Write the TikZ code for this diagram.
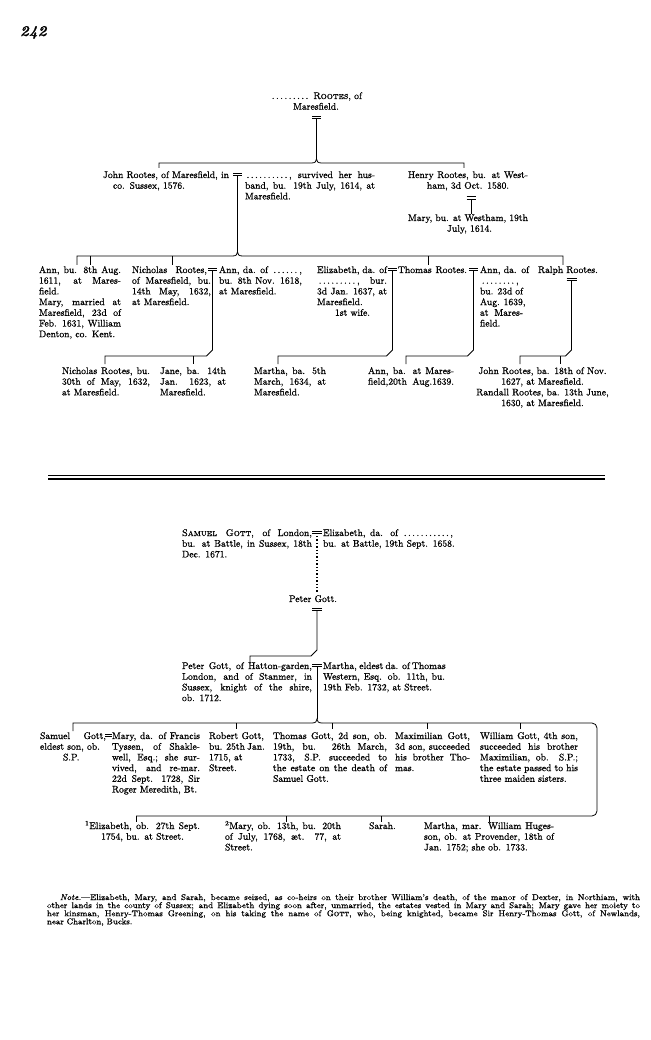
\documentclass[tikz,border=0pt]{standalone}
\usepackage{fontspec}
\setmainfont{Latin Modern Roman}[FakeBold=0.9,SmallCapsFont={Latin Modern Roman Caps},SmallCapsFeatures={FakeBold=0.9}]
\usetikzlibrary{calc}
\newcommand{\J}[1]{\makebox[\linewidth][s]{\spaceskip=0pt\xspaceskip=0pt\relax #1}}
\newcommand{\Jw}[2]{\makebox[#1pt][s]{\spaceskip=0pt\xspaceskip=0pt\relax #2}}
\newcommand{\Cl}[1]{\makebox[\linewidth][c]{#1}}
\newcommand{\dts}[1]{\makebox[#1pt]{\dotfill}}
\newcommand{\bodyfont}{\fontsize{9.6}{10.7}\selectfont}
\newcommand{\notefont}{\fontsize{8.4}{8.1}\selectfont}
% equals sign: name, x centre, y centre, half width
\newcommand{\Eq}[4]{\coordinate (#1) at (#2,#3);
  \draw[ln] ($(#1)+(-#4,-1.2)$) -- ++(2*#4,0) ($(#1)+(-#4,1.2)$) -- ++(2*#4,0);}
\begin{document}
\begin{tikzpicture}[x=1pt,y=-1pt,
  every node/.style={inner sep=0pt,outer sep=0pt,font=\bodyfont},
  blk/.style={anchor=base west},
  ln/.style={line width=0.8pt,black}]
\fill[white] (0,0) rectangle (650,1040);
\useasboundingbox (0,0) rectangle (650,1040);

\node[anchor=base west,font=\fontsize{15}{15}\selectfont\bfseries\itshape] (pg) at (20,36) {242};

% ---------------- Rootes ----------------
\node[blk,text width=100pt] (top) at (266,99) {\Cl{\dts{40} \textsc{Rootes}, of}\\ \Cl{Maresfield.}};
\Eq{eqTop}{316.5}{117.3}{4.5}
\draw[ln] (eqTop) ++(0,1.2) -- (316.5,159);
\draw[ln] (159,168) -- (159,163) -- (311.5,163) .. controls (315,163) and (316.5,161.5) .. (316.5,159)
  .. controls (316.5,161.5) and (318,163) .. (321.5,163) -- (464,163) -- (464,168);

\node[blk,text width=130pt] (john) at (103,178) {John Rootes, of Maresfield, in\\ \hspace*{10pt}co. Sussex, 1576.};
\Eq{eqJ}{237.5}{174.3}{4.5}
\node[blk,text width=130pt] (jwife) at (245,178) {\J{\dts{44}, survived her hus-}\\ \J{band, bu. 19th July, 1614, at}\\ Maresfield.};
\node[blk,text width=120pt] (henry) at (408,178) {\J{Henry Rootes, bu. at West-}\\ \Cl{ham, 3d Oct. 1580.}};
\Eq{eqH}{471}{198}{4.5}
\draw[ln] (eqH) ++(0,1.2) -- (471,214);
\node[blk,text width=120pt] (maryW) at (408,221) {\J{Mary, bu. at Westham, 19th}\\ \hspace*{39pt}July, 1614.};

\draw[ln] (eqJ) ++(0,1.2) -- (237.5,252);
\draw[ln] (77,265) -- (77,256) -- (232.5,256) .. controls (236,256) and (237.5,254.5) .. (237.5,252)
  .. controls (237.5,254.5) and (239,256) .. (242.5,256) -- (563,256) -- (563,265);
\draw[ln] (90,256) -- (90,265);
\draw[ln] (172,256) -- (172,265);
\draw[ln] (428,256) -- (428,265);

\node[blk,text width=82pt] (annA) at (39,273) {\J{Ann, bu. 8th Aug.}\\ \J{1611, at Mares-}\\ field.\\ \J{Mary, married at}\\ \J{Maresfield, 23d of}\\ \J{Feb. 1631, William}\\ Denton, co. Kent.};
\node[blk,text width=79pt] (nich) at (132,273) {\Jw{75}{Nicholas Rootes,}\\ \J{of Maresfield, bu.}\\ \J{14th May, 1632,}\\ at Maresfield.};
\Eq{eqN}{212.5}{269.5}{4.5}
\node[blk,text width=83pt] (annW) at (219,273) {\J{Ann, da. of \dts{28},}\\ \J{bu. 8th Nov. 1618,}\\ at Maresfield.};
\node[blk,text width=70pt] (eliz) at (317,273) {\J{Elizabeth, da. of}\\ \J{\dts{40}, bur.}\\ \J{3d Jan. 1637, at}\\ Maresfield.\\ \hspace*{18pt}1st wife.};
\Eq{eqE}{392.5}{269.5}{4.5}
\node[blk] (thomas) at (398,273) {\Jw{69}{Thomas Rootes.}};
\Eq{eqT}{473.5}{269.5}{4.5}
\node[blk,text width=56pt] (annW2) at (480,273) {Ann, da. of\\ \dts{36},\\ \Jw{43}{bu. 23d of}\\ \Jw{43}{Aug. 1639,}\\ \Jw{43}{at Mares-}\\ field.};
\node[blk] (ralph) at (538,273) {Ralph Rootes.};
\Eq{eqR}{571.5}{279.5}{5}

\draw[ln] (eqN) ++(0,1.2) -- (212.5,350) -- (206.5,356) -- (105,356) -- (105,364);
\draw[ln] (193,356) -- (193,364);
\draw[ln] (eqE) ++(0,1.2) -- (392.5,350) -- (386.5,356) -- (278,356) -- (278,364);
\draw[ln] (eqT) ++(0,1.2) -- (473.5,350) -- (467.5,356) -- (406,356) -- (406,364);
\draw[ln] (eqR) ++(0,1.2) -- (571.5,350) -- (565.5,356) -- (520,356) -- (520,364);
\draw[ln] (560,356) -- (560,364);

\node[blk,text width=88pt] (nich2) at (62,374) {\J{Nicholas Rootes, bu.}\\ \J{30th of May, 1632,}\\ at Maresfield.};
\node[blk,text width=66pt] (jane) at (160,374) {\J{Jane, ba. 14th}\\ \J{Jan. 1623, at}\\ Maresfield.};
\node[blk,text width=72pt] (martha) at (254,374) {\J{Martha, ba. 5th}\\ \J{March, 1634, at}\\ Maresfield.};
\node[blk,text width=86pt] (annB) at (368,374) {\J{Ann, ba. at Mares-}\\ \J{field,20th Aug.1639.}};
\node[blk,text width=131pt] (johnR) at (477,374) {\Cl{John Rootes, ba. 18th of Nov.}\\ \Cl{1627, at Maresfield.}\\ \Cl{Randall Rootes, ba. 13th June,}\\ \Cl{1630, at Maresfield.}};

% separator
\draw[line width=0.8pt] (48,475.6) -- (605,475.6);
\draw[line width=1.6pt] (48,479) -- (605,479);

% ---------------- Gott ----------------
\node[blk,text width=130pt] (samuel) at (182,536) {\J{\textsc{Samuel Gott}, of London,}\\ \J{bu. at Battle, in Sussex, 18th}\\ Dec. 1671.};
\Eq{eqS}{317}{532.5}{5}
\node[blk,text width=140pt] (elizG) at (323,536) {\Jw{130}{Elizabeth, da. of \dts{48},}\\ bu. at Battle, 19th Sept. 1658.};
\draw[line width=1.3pt,dash pattern=on 1.3pt off 2.1pt] (eqS) ++(0,3.5) -- (317,592);
\node[anchor=base] (peter) at (313,602) {Peter Gott.};
\Eq{eqP}{317}{609.5}{5}
\draw[ln] (eqP) ++(0,1.2) -- (317,650) -- (311,656) -- (250,656) -- (250,663);

\node[blk,text width=130pt] (peterH) at (182,669) {\J{Peter Gott, of Hatton-garden,}\\ \J{London, and of Stanmer, in}\\ \J{Sussex, knight of the shire,}\\ ob. 1712.};
\Eq{eqPH}{317}{665.5}{5}
\node[blk,text width=122pt] (marthaW) at (323,669) {\J{Martha, eldest da. of Thomas}\\ \J{Western, Esq. ob. 11th, bu.}\\ 19th Feb. 1732, at Street.};
\draw[ln] (eqPH) ++(0,1.2) -- (317,719);
\draw[ln] (73,731) -- (73,723) -- (312,723) .. controls (315.5,723) and (317,721.5) .. (317,719)
  .. controls (317,721.5) and (318.5,723) .. (322,723);
\draw[ln,rounded corners=5pt] (322,723) -- (597,723) -- (597,816) -- (136,816);
\draw[ln] (136,816) -- (136,822);
\draw[ln] (236,723) -- (236,729);
\draw[ln] (332,723) -- (332,729);
\draw[ln] (427,723) -- (427,729);
\draw[ln] (520,723) -- (520,729);
\draw[ln] (286,816) -- (286,822);
\draw[ln] (381,816) -- (381,822);
\draw[ln] (489,816) -- (489,822);

\node[blk,text width=66pt] (samG) at (40,739) {\J{Samuel Gott,}\\ eldest son, ob.\\ \hspace*{23pt}S.P.};
\Eq{eqSG}{108.5}{735.5}{3.5}
\node[blk,text width=88pt] (maryT) at (112,739) {\J{Mary, da. of Francis}\\ \J{Tyssen, of Shakle-}\\ \J{well, Esq.; she sur-}\\ \J{vived, and re-mar.}\\ \J{22d Sept. 1728, Sir}\\ Roger Meredith, Bt.};
\node[blk,text width=55pt] (robert) at (209,739) {\J{Robert Gott,}\\ \J{bu. 25th Jan.}\\ 1715, at\\ Street.};
\node[blk,text width=114pt] (thomG) at (273,739) {\J{Thomas Gott, 2d son, ob.}\\ \J{19th, bu. 26th March,}\\ \J{1733, S.P. succeeded to}\\ \J{the estate on the death of}\\ Samuel Gott.};
\node[blk,text width=75pt] (maxG) at (395,739) {\J{Maximilian Gott,}\\ \J{3d son, succeeded}\\ \J{his brother Tho-}\\ mas.};
\node[blk,text width=98pt] (willG) at (480,739) {\J{William Gott, 4th son,}\\ \J{succeeded his brother}\\ \J{Maximilian, ob. S.P.;}\\ \J{the estate passed to his}\\ three maiden sisters.};

\node[blk,text width=115pt] (elizD) at (85,829) {\J{\textsuperscript{1}Elizabeth, ob. 27th Sept.}\\ \Cl{1754, bu. at Street.}};
\node[blk,text width=116pt] (maryD) at (225,829) {\J{\textsuperscript{2}Mary, ob. 13th, bu. 20th}\\ \J{of July, 1768, æt. 77, at}\\ Street.};
\node[blk] (sarah) at (369,829) {Sarah.};
\node[blk,text width=130pt] (marthaD) at (424,829) {\J{Martha, mar. William Huges-}\\ \J{son, ob. at Provender, 18th of}\\ Jan. 1752; she ob. 1733.};

\node[blk,text width=593pt,font=\notefont] (note) at (47,900) {\hspace*{13pt}\Jw{580}{\textit{Note.}—Elizabeth, Mary, and Sarah, became seized, as co-heirs on their brother William's death, of the manor of Dexter, in Northiam, with}\\ \J{other lands in the county of Sussex; and Elizabeth dying soon after, unmarried, the estates vested in Mary and Sarah; Mary gave her moiety to}\\ \J{her kinsman, Henry-Thomas Greening, on his taking the name of \textsc{Gott}, who, being knighted, became Sir Henry-Thomas Gott, of Newlands,}\\ near Charlton, Bucks.};
\end{tikzpicture}
\end{document}
